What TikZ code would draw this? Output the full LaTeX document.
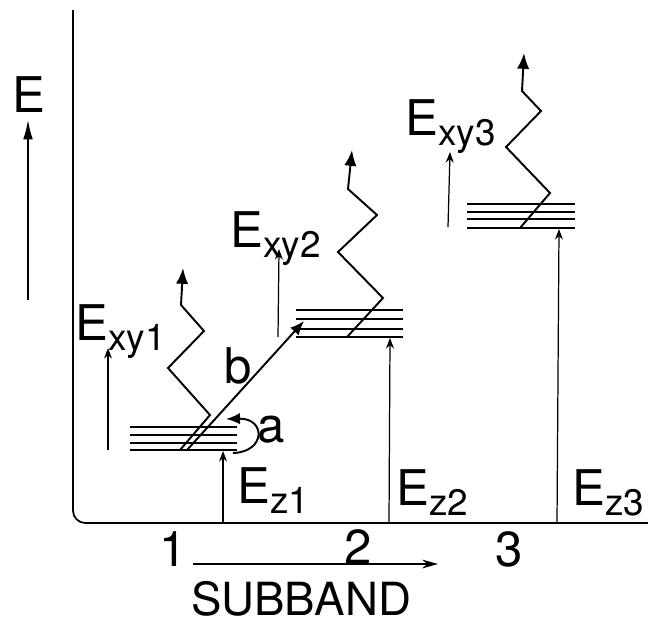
\documentclass[tikz,border=0pt]{standalone}
\usepackage{fontspec}
\setmainfont{TeX Gyre Heros}
\usetikzlibrary{arrows.meta}
\newcommand{\sublbl}[1]{\raisebox{-6pt}{\fontsize{21}{23}\selectfont #1}}

\begin{document}
\begin{tikzpicture}[
  x=0.02cm, y=-0.02cm,
  lbl/.style={inner sep=0pt, anchor=base west, font=\fontsize{28}{30}\selectfont},
  num/.style={inner sep=0pt, anchor=base, font=\fontsize{28}{30}\selectfont},
  axis/.style={line width=1pt},
  level/.style={line width=0.9pt},
  energy/.style={line width=0.7pt, -{Stealth[length=6pt,width=4.5pt]}},
  zig/.style={line width=1.1pt, -{Latex[length=9pt,width=7pt]}},
  trans/.style={line width=1.1pt, -{Latex[length=8pt,width=6.5pt]}}
]
\useasboundingbox (0,0) rectangle (648,623);

% axes
\coordinate (top)    at (73,10);
\coordinate (origin) at (73,523);
\coordinate (right)  at (648,523);
\draw[axis, rounded corners=7] (top) -- (origin) -- (right);

\coordinate (ebot) at (28,300);
\coordinate (etop) at (28,120);
\draw[line width=0.8pt, -{Latex[length=11pt,width=5.5pt]}] (ebot) -- (etop);
\node[lbl] (elabel) at (12,112) {E};

% subband levels
\foreach \y in {427,435,443,450} \draw[level] (130,\y) -- (237,\y);
\foreach \y in {310,319,329,337} \draw[level] (296,\y) -- (403,\y);
\foreach \y in {204,212,219,228} \draw[level] (467,\y) -- (575,\y);

% E_z arrows
\coordinate (ez1b) at (223,523); \coordinate (ez1t) at (223,451);
\coordinate (ez2b) at (389,523); \coordinate (ez2t) at (390,338);
\coordinate (ez3b) at (557,523); \coordinate (ez3t) at (559,229);
\draw[energy] (ez1b) -- (ez1t);
\draw[energy] (ez2b) -- (ez2t);
\draw[energy] (ez3b) -- (ez3t);
\node[lbl] (ez1) at (237,503) {E\sublbl{z1}};
\node[lbl] (ez2) at (396,505) {E\sublbl{z2}};
\node[lbl] (ez3) at (572,505) {E\sublbl{z3}};

% E_xy arrows
\coordinate (exy1b) at (108,450); \coordinate (exy1t) at (108,348);
\coordinate (exy2b) at (278,337); \coordinate (exy2t) at (279,249);
\coordinate (exy3b) at (448,227); \coordinate (exy3t) at (450,152);
\draw[energy] (exy1b) -- (exy1t);
\draw[energy] (exy2b) -- (exy2t);
\draw[energy] (exy3b) -- (exy3t);
\node[lbl] (exy1) at (75,340)  {E\sublbl{xy1}};
\node[lbl] (exy2) at (230,247) {E\sublbl{xy2}};
\node[lbl] (exy3) at (405,135) {E\sublbl{xy3}};

% emission zigzags
\coordinate (z1s) at (180,450); \coordinate (z1e) at (183,268);
\coordinate (z2s) at (347,337); \coordinate (z2e) at (352,150);
\coordinate (z3s) at (520,228); \coordinate (z3e) at (524,53);
\draw[zig] (z1s) -- (210,415) -- (168,368) -- (204,331) -- (181,305) -- (z1e);
\draw[zig] (z2s) -- (383,298) -- (338,252) -- (377,215) -- (348,189) -- (z2e);
\draw[zig] (z3s) -- (550,193) -- (506,147) -- (541,111) -- (522,91) -- (z3e);

% transitions a and b
\coordinate (bs) at (187,450); \coordinate (be) at (304,321);
\draw[trans] (bs) -- (be);
\node[num] (blabel) at (238,383) {b};
\coordinate (as) at (233,453); \coordinate (ae) at (226,419);
\draw[trans] (as) .. controls (266,452) and (266,418) .. (ae);
\node[num] (alabel) at (271,442) {a};

% subband axis
\node[num] (n1) at (173,566) {1};
\node[num] (n2) at (358,564) {2};
\node[num] (n3) at (509,566) {3};
\coordinate (sbl) at (193,564); \coordinate (sbr) at (438,564);
\draw[line width=0.9pt, -{Stealth[length=9pt,width=5pt]}] (sbl) -- (sbr);
\node[num, font=\fontsize{26}{28}\selectfont] (sub) at (301,615) {SUBBAND};
\end{tikzpicture}
\end{document}
